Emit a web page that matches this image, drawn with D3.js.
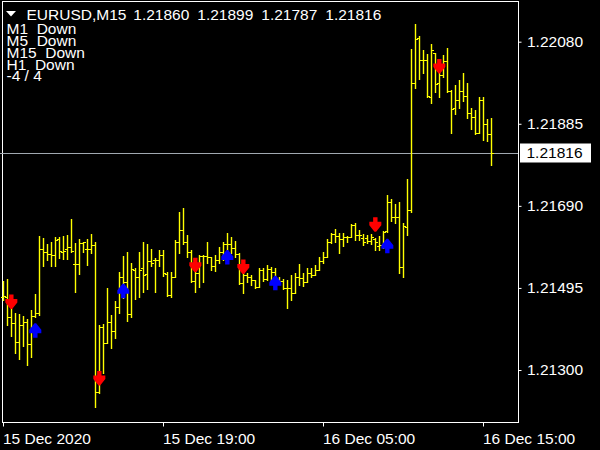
<!DOCTYPE html>
<html><head><meta charset="utf-8">
<script src="https://cdn.jsdelivr.net/npm/d3@7"></script>
<style>html,body{margin:0;padding:0;background:#000;overflow:hidden}</style>
</head><body>
<svg id="c" width="600" height="450"></svg>
<script>
const symbol = "EURUSD,M15";
const headerValues = ["1.21860", "1.21899", "1.21787", "1.21816"];
const indicatorLines = ["M1  Down", "M5  Down", "M15  Down", "H1  Down", "-4 / 4"];
const timeLabels = ["15 Dec 2020", "15 Dec 19:00", "16 Dec 05:00", "16 Dec 15:00"];
const timeTickIdx = [0, 40, 80, 120];
const priceTicks = [1.22080, 1.21885, 1.21690, 1.21495, 1.21300];
const lastPrice = 1.21816;

const open = [1.21473,1.21474,1.21425,1.21411,1.21366,1.21406,1.21414,1.21361,1.21429,1.21435,
1.21587,1.21580,1.21576,1.21573,1.21611,1.21581,1.21587,1.21593,1.21551,1.21551,
1.21601,1.21587,1.21587,1.21597,1.21247,1.21401,1.21364,1.21413,1.21393,1.21449,
1.21522,1.21508,1.21433,1.21538,1.21520,1.21542,1.21528,1.21559,1.21562,1.21562,
1.21573,1.21528,1.21478,1.21522,1.21605,1.21633,1.21605,1.21580,1.21512,1.21530,
1.21571,1.21571,1.21568,1.21547,1.21562,1.21581,1.21600,1.21600,1.21589,1.21576,
1.21506,1.21526,1.21522,1.21514,1.21498,1.21538,1.21516,1.21539,1.21534,1.21516,
1.21512,1.21494,1.21494,1.21484,1.21520,1.21518,1.21510,1.21530,1.21526,1.21538,
1.21559,1.21569,1.21603,1.21623,1.21619,1.21611,1.21615,1.21615,1.21645,1.21621,
1.21613,1.21613,1.21607,1.21611,1.21595,1.21596,1.21630,1.21698,1.21663,1.21663,
1.21544,1.21640,1.21679,1.21981,1.22088,1.22037,1.22037,1.21949,1.22052,1.21983,
1.22001,1.22035,1.21964,1.21922,1.21942,1.21964,1.21951,1.21910,1.21900,1.21862,
1.21942,1.21884,1.21860];
const high = [1.21512,1.21516,1.21467,1.21436,1.21433,1.21429,1.21421,1.21443,1.21481,1.21619,
1.21613,1.21600,1.21605,1.21615,1.21617,1.21619,1.21621,1.21658,1.21601,1.21611,
1.21605,1.21611,1.21623,1.21605,1.21407,1.21410,1.21496,1.21431,1.21463,1.21532,
1.21571,1.21581,1.21555,1.21543,1.21581,1.21603,1.21600,1.21588,1.21567,1.21585,
1.21585,1.21534,1.21532,1.21609,1.21676,1.21686,1.21621,1.21585,1.21554,1.21573,
1.21573,1.21605,1.21569,1.21573,1.21593,1.21605,1.21626,1.21617,1.21607,1.21577,
1.21538,1.21530,1.21526,1.21514,1.21542,1.21542,1.21550,1.21544,1.21542,1.21520,
1.21516,1.21514,1.21526,1.21530,1.21552,1.21531,1.21542,1.21542,1.21550,1.21569,
1.21580,1.21611,1.21625,1.21634,1.21625,1.21626,1.21619,1.21647,1.21649,1.21633,
1.21623,1.21621,1.21623,1.21613,1.21619,1.21631,1.21716,1.21706,1.21695,1.21698,
1.21649,1.21753,1.22062,1.22122,1.22094,1.22060,1.22051,1.22075,1.22054,1.22008,
1.22048,1.22066,1.21965,1.21977,1.21989,1.22006,1.21983,1.21922,1.21918,1.21948,
1.21949,1.21896,1.21899];
const low = [1.21467,1.21407,1.21381,1.21341,1.21326,1.21356,1.21312,1.21330,1.21427,1.21431,
1.21547,1.21562,1.21547,1.21547,1.21566,1.21564,1.21564,1.21581,1.21486,1.21528,
1.21581,1.21550,1.21579,1.21211,1.21245,1.21294,1.21364,1.21353,1.21375,1.21435,
1.21471,1.21417,1.21427,1.21468,1.21474,1.21486,1.21492,1.21546,1.21486,1.21546,
1.21524,1.21477,1.21473,1.21522,1.21577,1.21599,1.21569,1.21510,1.21486,1.21498,
1.21510,1.21554,1.21538,1.21536,1.21554,1.21562,1.21581,1.21577,1.21568,1.21505,
1.21484,1.21510,1.21502,1.21494,1.21498,1.21512,1.21514,1.21506,1.21510,1.21506,
1.21492,1.21447,1.21467,1.21484,1.21502,1.21500,1.21510,1.21522,1.21526,1.21538,
1.21554,1.21568,1.21601,1.21603,1.21577,1.21595,1.21605,1.21615,1.21609,1.21609,
1.21597,1.21601,1.21600,1.21584,1.21585,1.21589,1.21629,1.21653,1.21650,1.21531,
1.21522,1.21621,1.21676,1.21971,1.21991,1.22005,1.21948,1.21934,1.21961,1.21949,
1.21997,1.21960,1.21862,1.21908,1.21922,1.21938,1.21898,1.21872,1.21860,1.21862,
1.21847,1.21845,1.21787];
const close = [1.21476,1.21425,1.21411,1.21366,1.21406,1.21414,1.21361,1.21429,1.21435,1.21587,
1.21581,1.21576,1.21573,1.21609,1.21583,1.21583,1.21593,1.21583,1.21551,1.21601,
1.21603,1.21587,1.21596,1.21247,1.21401,1.21364,1.21413,1.21393,1.21449,1.21522,
1.21508,1.21433,1.21539,1.21520,1.21538,1.21526,1.21559,1.21554,1.21562,1.21573,
1.21530,1.21478,1.21522,1.21605,1.21633,1.21605,1.21580,1.21512,1.21530,1.21571,
1.21571,1.21568,1.21547,1.21562,1.21581,1.21600,1.21600,1.21589,1.21576,1.21506,
1.21526,1.21522,1.21514,1.21498,1.21538,1.21516,1.21539,1.21534,1.21516,1.21512,
1.21494,1.21494,1.21484,1.21520,1.21518,1.21510,1.21530,1.21526,1.21538,1.21559,
1.21569,1.21603,1.21623,1.21619,1.21611,1.21615,1.21615,1.21645,1.21621,1.21621,
1.21603,1.21607,1.21617,1.21604,1.21596,1.21629,1.21698,1.21663,1.21663,1.21544,
1.21642,1.21679,1.21981,1.22086,1.22037,1.22037,1.21951,1.22060,1.21979,1.22001,
1.22035,1.21964,1.21919,1.21942,1.21964,1.21951,1.21910,1.21900,1.21862,1.21942,
1.21884,1.21860,1.21816];

const sellIdx = [2, 24, 48, 60, 93, 109];
const sellPrice = [1.21463, 1.21281, 1.21550, 1.21546, 1.21646, 1.22022];
const buyIdx = [8, 30, 56, 68, 96];
const buyPrice = [1.21393, 1.21487, 1.21567, 1.21506, 1.21594];

const FONT = "'Liberation Sans', Arial, sans-serif";
const n = close.length;
const svg = d3.select("#c");
svg.append("rect").attr("width", 600).attr("height", 450).attr("fill", "#000");

const x = d3.scaleLinear().domain([0, n - 1]).range([3.33, 491.33]);
const y = d3.scaleLinear().domain([1.21300, 1.22080]).range([370, 41.7]);

// frame
const frame = svg.append("g").attr("stroke", "#fff").attr("stroke-width", 1).attr("shape-rendering", "crispEdges");
frame.append("line").attr("x1", 2.5).attr("x2", 2.5).attr("y1", 1).attr("y2", 423);
frame.append("line").attr("x1", 518.5).attr("x2", 518.5).attr("y1", 1).attr("y2", 423);
frame.append("line").attr("x1", 2).attr("x2", 519).attr("y1", 1.5).attr("y2", 1.5);
frame.append("line").attr("x1", 2).attr("x2", 519).attr("y1", 422.5).attr("y2", 422.5);

// current price line
svg.append("line").attr("x1", 0).attr("x2", 518).attr("y1", Math.round(y(lastPrice)) + 0.5).attr("y2", Math.round(y(lastPrice)) + 0.5)
  .attr("stroke", "#a0a8b0").attr("stroke-width", 1).attr("shape-rendering", "crispEdges");

// bars
const data = d3.range(n).map(i => ({ i, o: open[i], h: high[i], l: low[i], c: close[i] }));
const gBars = svg.append("g").attr("stroke", "#ffff00");
const bar = gBars.selectAll("g").data(data).join("g");
bar.append("line")
  .attr("stroke-width", 1.4)
  .attr("x1", d => Math.round(x(d.i)) + 0.5).attr("x2", d => Math.round(x(d.i)) + 0.5)
  .attr("y1", d => Math.round(y(d.h))).attr("y2", d => Math.round(y(d.l)) + 1);
bar.append("line").attr("stroke-width", 1.2)
  .attr("x1", d => Math.round(x(d.i)) - 2).attr("x2", d => Math.round(x(d.i)))
  .attr("y1", d => Math.round(y(d.o)) + 0.5).attr("y2", d => Math.round(y(d.o)) + 0.5);
bar.append("line").attr("stroke-width", 1.2)
  .attr("x1", d => Math.round(x(d.i)) + 1).attr("x2", d => Math.round(x(d.i)) + 3)
  .attr("y1", d => Math.round(y(d.c)) + 0.5).attr("y2", d => Math.round(y(d.c)) + 0.5);

// arrows
const downPts = [[-2.2,-7],[2.2,-7],[2.2,-2.5],[6,-2.5],[6,1],[0.8,7.5],[-0.8,7.5],[-6,1],[-6,-2.5],[-2.2,-2.5]];
const upPts = downPts.map(p => [p[0], -p[1]]);
const line = d3.line();
svg.append("g").selectAll("path").data(sellIdx.map((d, k) => ({ i: d, p: sellPrice[k] }))).join("path")
  .attr("d", line(downPts) + "Z")
  .attr("transform", d => `translate(${x(d.i)},${y(d.p)})`)
  .attr("fill", "#ff0000");
svg.append("g").selectAll("path").data(buyIdx.map((d, k) => ({ i: d, p: buyPrice[k] }))).join("path")
  .attr("d", line(upPts) + "Z")
  .attr("transform", d => `translate(${x(d.i)},${y(d.p)})`)
  .attr("fill", "#0000ff");

// y axis
const yAxis = svg.append("g").attr("transform", "translate(518.5,0)")
  .call(d3.axisRight(y).tickValues(priceTicks).tickFormat(d3.format(".5f")).tickSize(3).tickPadding(5.5));
yAxis.select(".domain").remove();
yAxis.selectAll("line").attr("stroke", "#fff");
yAxis.selectAll("text").attr("fill", "#fff").attr("font-family", FONT).attr("font-size", "15.5px");

// current price box
const lp = y(lastPrice);
svg.append("rect").attr("x", 520).attr("y", Math.round(lp) - 9.5).attr("width", 71).attr("height", 19).attr("fill", "#fff");
svg.append("text").attr("x", 526.5).attr("y", lp).attr("dy", "0.35em").attr("fill", "#000")
  .attr("font-family", FONT).attr("font-size", "15.5px").text(d3.format(".5f")(lastPrice));

// x axis
const xAxis = svg.append("g").attr("transform", "translate(0,422.5)")
  .call(d3.axisBottom(x).tickValues(timeTickIdx).tickFormat((d, k) => timeLabels[k]).tickSize(4).tickPadding(6).tickSizeOuter(0));
xAxis.select(".domain").remove();
xAxis.selectAll(".tick").attr("transform", d => `translate(${Math.round(x(d)) + 0.5},0)`);
xAxis.selectAll("line").attr("stroke", "#fff");
xAxis.selectAll("text").attr("fill", "#fff").attr("font-family", FONT).attr("font-size", "15.5px")
  .attr("text-anchor", "start").attr("x", -0.5);

// header
svg.append("path").attr("d", "M6,11L16,11L11,16.5Z").attr("fill", "#fff");
svg.append("text").attr("x", 26.5).attr("y", 19.5).attr("fill", "#fff").attr("font-family", FONT).attr("font-size", "15.5px").text(symbol);
svg.append("g").selectAll("text").data(headerValues).join("text")
  .attr("x", (d, k) => 133.3 + k * 64).attr("y", 19.5).attr("fill", "#fff")
  .attr("font-family", FONT).attr("font-size", "15.5px").text(d => d);

svg.append("g").selectAll("text").data(indicatorLines).join("text")
  .attr("x", 6.5).attr("y", (d, k) => 34 + k * 11.85).attr("fill", "#fff")
  .attr("font-family", FONT).attr("font-size", "15.5px")
  .style("white-space", "pre").text(d => d);
</script>
</body></html>
